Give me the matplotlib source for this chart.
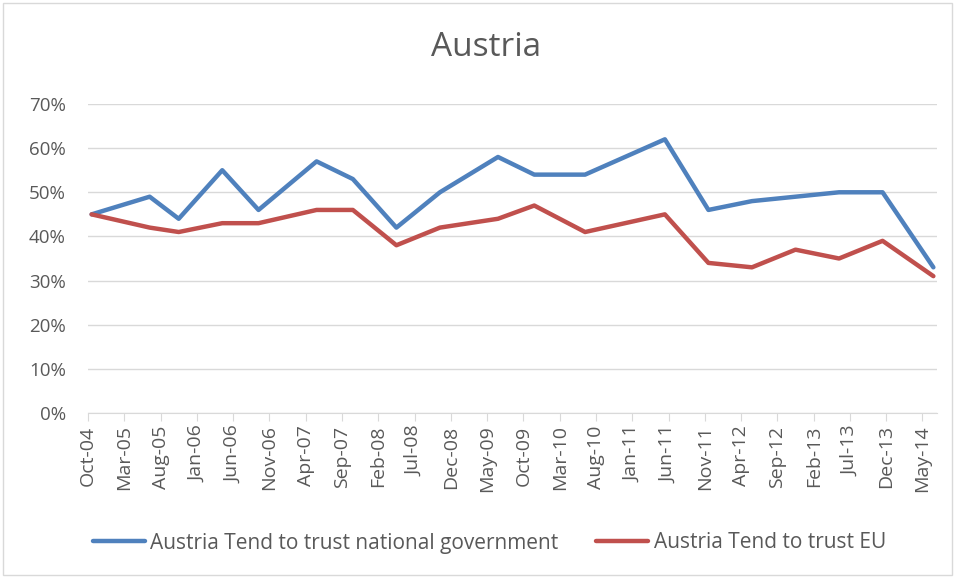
import matplotlib
matplotlib.use("Agg")
import matplotlib.pyplot as plt
from matplotlib.patches import Rectangle
import pandas as pd

plt.rcParams['font.family'] = ['Open Sans', 'DejaVu Sans']

# survey months (Eurobarometer waves) and values
survey_months = ["2004-10", "2005-06", "2005-10", "2006-04", "2006-09", "2007-05",
                 "2007-10", "2008-04", "2008-10", "2009-06", "2009-11", "2010-06",
                 "2011-05", "2011-11", "2012-05", "2012-11", "2013-05", "2013-11",
                 "2014-06"]
trust_gov = [45, 49, 44, 55, 46, 57, 53, 42, 50, 58, 54, 54, 62, 46, 48, 49, 50, 50, 33]
trust_eu = [45, 42, 41, 43, 43, 46, 46, 38, 42, 44, 47, 41, 45, 34, 33, 37, 35, 39, 31]

tick_labels = ["Oct-04", "Mar-05", "Aug-05", "Jan-06", "Jun-06", "Nov-06", "Apr-07",
               "Sep-07", "Feb-08", "Jul-08", "Dec-08", "May-09", "Oct-09", "Mar-10",
               "Aug-10", "Jan-11", "Jun-11", "Nov-11", "Apr-12", "Sep-12", "Feb-13",
               "Jul-13", "Dec-13", "May-14"]

start = pd.Period("2004-10", freq="M")


def month_index(s):
  return (pd.Period(s, freq="M") - start).n


def main():
  # each month is one slot, points sit in the middle of their slot
  xs = [month_index(m) + 0.5 for m in survey_months]
  n_slots = month_index("2014-06") + 1

  fig = plt.figure(figsize=(9.56, 5.78), dpi=100)
  ax = fig.add_axes([88 / 956, 1 - 413 / 578, (937 - 88) / 956, (413 - 104) / 578])

  ax.plot(xs, [v / 100 for v in trust_gov], color="#4F81BD", lw=3.2,
          solid_joinstyle="round", solid_capstyle="round",
          label="Austria Tend to trust national government")
  ax.plot(xs, [v / 100 for v in trust_eu], color="#C0504D", lw=3.2,
          solid_joinstyle="round", solid_capstyle="round",
          label="Austria Tend to trust EU")

  ax.set_xlim(0, n_slots)
  ax.set_ylim(0, 0.7)
  ax.set_yticks([i / 10 for i in range(8)])
  ax.set_yticklabels([f"{i * 10}%" for i in range(8)])
  ax.set_xticks(range(0, 5 * len(tick_labels), 5))
  ax.set_xticklabels(tick_labels, rotation=90)

  ax.grid(axis="y", color="#D9D9D9", lw=1)
  ax.set_axisbelow(True)
  for side in ["left", "right", "top"]:
    ax.spines[side].set_visible(False)
  ax.spines["bottom"].set_color("#D9D9D9")
  ax.tick_params(axis="y", length=0, labelsize=13.5, labelcolor="#595959", pad=16)
  ax.tick_params(axis="x", length=6, color="#D9D9D9", labelsize=14,
                 labelcolor="#595959", pad=3)

  fig.text(0.508, 1 - 48 / 578, "Austria", ha="center", va="center",
           fontsize=24, color="#595959")

  fig.legend(loc="center", bbox_to_anchor=(0.512, 1 - 543 / 578), ncol=2,
             frameon=False, fontsize=15, labelcolor="#595959",
             handlelength=2.5, handletextpad=0.25, columnspacing=1.8)

  fig.patches.append(Rectangle((3 / 956, 3 / 578), 949 / 956, 572 / 578,
                               transform=fig.transFigure, fill=False,
                               edgecolor="#D9D9D9", lw=1))

  fig.savefig("out.png", dpi=100)


if __name__ == "__main__":
  main()
